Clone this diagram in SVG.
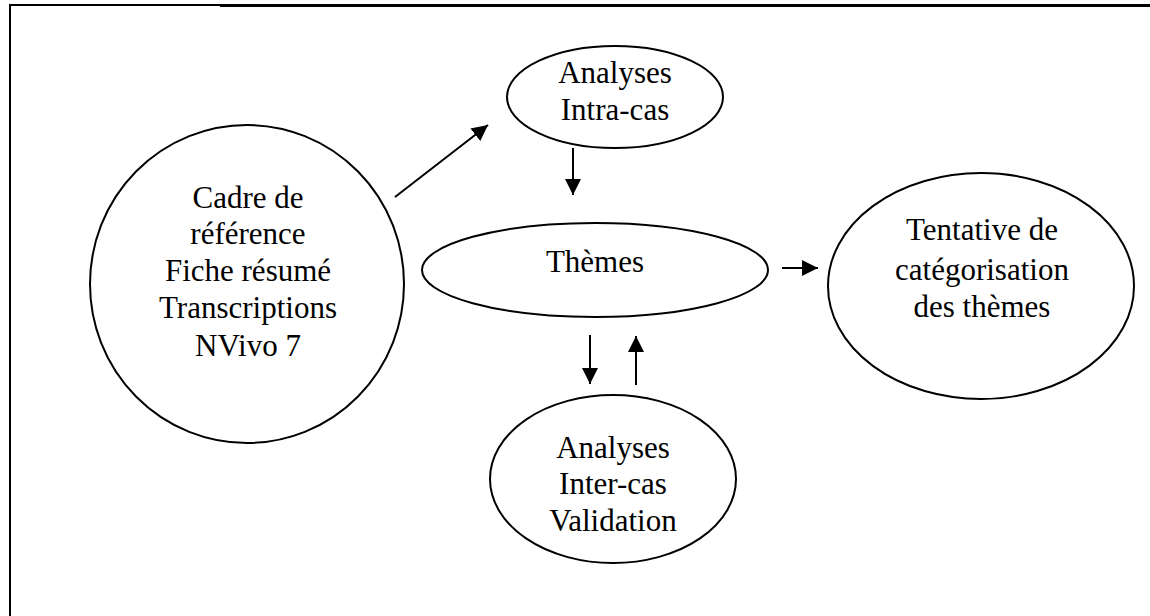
<svg xmlns="http://www.w3.org/2000/svg" width="1150" height="616" viewBox="0 0 1150 616">
  <style>
    .node { fill: #fff; stroke: #000; stroke-width: 2; }
    .lbl { font-family: "Liberation Serif", "Times New Roman", serif; font-size: 31px; fill: #000; text-anchor: middle; }
    .conn { stroke: #000; stroke-width: 2; fill: none; marker-end: url(#arrow); }
    .frame { stroke: #000; fill: none; }
  </style>
  <defs>
    <marker id="arrow" markerUnits="userSpaceOnUse" markerWidth="18" markerHeight="16" refX="16" refY="8" orient="auto">
      <path d="M0,0 L16,8 L0,16 Z" fill="#000"/>
    </marker>
  </defs>
  <rect width="1150" height="616" fill="#fff"/>
  <g id="frame">
    <line class="frame" x1="10" y1="5" x2="220" y2="5" stroke-width="2"/>
    <line class="frame" x1="220" y1="5.5" x2="1150" y2="5.5" stroke-width="3"/>
    <line class="frame" x1="10" y1="4" x2="10" y2="616" stroke-width="2"/>
  </g>
  <g id="connectors">
    <line class="conn" x1="395" y1="197" x2="488" y2="125"/>
    <line class="conn" x1="573" y1="148" x2="573" y2="195"/>
    <line class="conn" x1="782" y1="268" x2="818" y2="268"/>
    <line class="conn" x1="590" y1="335" x2="590" y2="384"/>
    <line class="conn" x1="636" y1="385" x2="636" y2="336"/>
  </g>
  <g id="cadre">
    <ellipse class="node" cx="247" cy="284" rx="157" ry="159"/>
    <text class="lbl" x="248" y="208">Cadre de</text>
    <text class="lbl" x="248" y="244">référence</text>
    <text class="lbl" x="248" y="281">Fiche résumé</text>
    <text class="lbl" x="248" y="318">Transcriptions</text>
    <text class="lbl" x="248" y="356">NVivo 7</text>
  </g>
  <g id="intra">
    <ellipse class="node" cx="615" cy="97" rx="108" ry="51"/>
    <text class="lbl" x="615" y="83">Analyses</text>
    <text class="lbl" x="615" y="120">Intra-cas</text>
  </g>
  <g id="themes">
    <ellipse class="node" cx="595" cy="270" rx="173" ry="47"/>
    <text class="lbl" x="595" y="272">Thèmes</text>
  </g>
  <g id="categorisation">
    <ellipse class="node" cx="981" cy="286" rx="153" ry="113"/>
    <text class="lbl" x="982" y="240">Tentative de</text>
    <text class="lbl" x="982" y="280">catégorisation</text>
    <text class="lbl" x="982" y="317">des thèmes</text>
  </g>
  <g id="inter">
    <ellipse class="node" cx="613" cy="479" rx="123" ry="84"/>
    <text class="lbl" x="613" y="458">Analyses</text>
    <text class="lbl" x="613" y="494">Inter-cas</text>
    <text class="lbl" x="613" y="531">Validation</text>
  </g>
</svg>
